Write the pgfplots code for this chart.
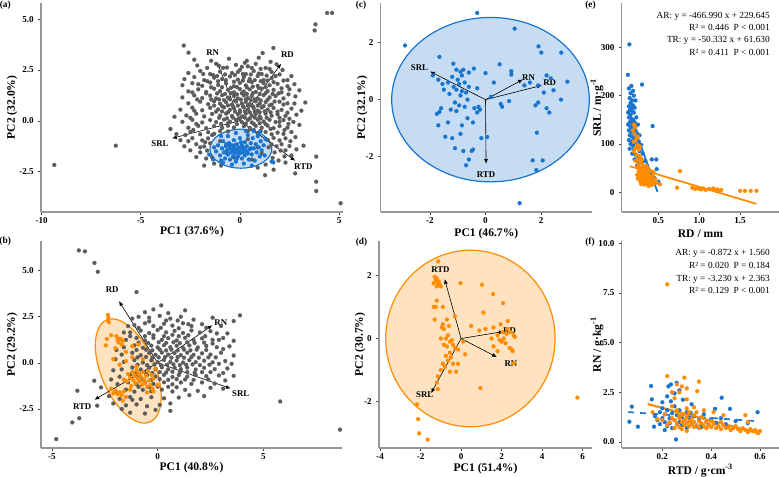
\documentclass[border=0pt]{standalone}
\usepackage{pgfplots}
\pgfplotsset{compat=1.18}
\usepackage{fontspec}
\setmainfont{Liberation Serif}
\usetikzlibrary{arrows.meta}

\definecolor{ptgrey}{RGB}{92,92,92}
\definecolor{ptblue}{RGB}{24,116,205}
\definecolor{ptorange}{RGB}{255,140,0}
\definecolor{axgrey}{RGB}{150,150,150}

\pgfplotsset{
  panel/.style={
    scale only axis, anchor=south west, clip=false,
    axis x line*=bottom, axis y line*=left,
    axis line style={-, draw=axgrey, line width=0.9pt},
    tick align=outside, major tick length=2pt,
    tick style={black!75, line width=0.45pt},
    tick label style={font=\bfseries\fontsize{6.8}{8}\selectfont, text=black},
    xticklabel style={inner sep=1.6pt},
    label style={font=\bfseries\fontsize{8.7}{10}\selectfont},
    xlabel style={anchor=center},
    ylabel style={anchor=center},
  },
  greypts/.style={only marks, mark=*, mark size=1.5pt, color=ptgrey, mark options={line width=0.1pt}},
  bluepts/.style={only marks, mark=*, mark size=1.5pt, color=ptblue, mark options={line width=0.1pt}},
  orangepts/.style={only marks, mark=*, mark size=1.5pt, color=ptorange, mark options={line width=0.1pt}},
  loading/.style={black, line width=0.45pt, -{Latex[length=3.6pt,width=3pt]}},
}
\newcommand{\vlab}{\bfseries\fontsize{6.6}{7}\selectfont}
\newcommand{\plab}{\bfseries\fontsize{7}{8}\selectfont}

\begin{document}
\begin{tikzpicture}
\useasboundingbox (0,0) rectangle (584.25pt,357pt);

% panel labels
\node[font=\plab] at (3.9pt,353.2pt) {(a)};
\node[font=\plab] at (3.9pt,176.2pt) {(b)};
\node[font=\plab] at (270.8pt,353.2pt) {(c)};
\node[font=\plab] at (271.1pt,175.5pt) {(d)};
\node[font=\plab] at (442.9pt,353.2pt) {(e)};
\node[font=\plab] at (442.5pt,175.5pt) {(f)};

%================ (a) PCA, all samples, AR highlighted
\begin{axis}[panel, at={(30.75pt,198pt)}, width=226.5pt, height=156.75pt,
  xmin=-10.03, xmax=5.2, ymin=-4.48, ymax=5.79,
  xtick={-10,-5,0,5}, xticklabels={-10,-5,0,5},
  ytick={-2.5,0,2.5,5}, yticklabels={-2.5,0.0,2.5,5.0},
  xlabel={PC1 (37.6\%)}, ylabel={PC2 (32.0\%)},
  xlabel style={at={(axis description cs:0.5,-0.093)}},
  ylabel style={at={(axis description cs:-0.096,0.5)}}]
\addplot[greypts] coordinates {
(-9.36,-2.17) (-6.26,-1.22) (4.40,5.30) (4.65,5.30) (3.81,4.74) (3.77,4.44) (5.08,-4.05) (3.85,-1.76) (3.85,-2.99) (3.85,-3.45) (3.21,-1.22) (2.79,-2.58) (1.27,-2.67) (1.69,3.58) (-2.83,3.70) (-2.59,3.35) (1.15,3.33)
(-2.3,3.0) (-1.45,2.95) (-0.55,3.05) (0.35,2.95) (0.95,3.1) (1.55,2.9)
(-2.15,2.72) (-1.65,2.6) (-1.2,2.8) (-0.65,2.62) (-0.2,2.75) (0.4,2.68) (0.8,2.8) (1.3,2.6) (1.85,2.78) (2.15,2.5)
(-2.6,2.35) (-2.0,2.45) (-1.5,2.3) (-1.0,2.42) (-0.4,2.35) (0.0,2.5) (0.3,2.3) (0.7,2.45) (1.1,2.3) (1.6,2.4) (2.0,2.28) (2.6,2.2)
(-2.8,2.05) (-2.3,2.15) (-1.8,2.0) (-1.3,2.12) (-0.9,2.05) (-0.5,2.18) (-0.1,2.02) (0.2,2.15) (0.5,2.05) (0.9,2.2) (1.2,2.0) (1.6,2.1) (2.2,1.98)
(-2.9,1.75) (-2.4,1.85) (-1.9,1.72) (-1.5,1.88) (-1.1,1.76) (-0.7,1.84) (-0.3,1.7) (0.0,1.86) (0.3,1.74) (0.6,1.9) (0.9,1.72) (1.2,1.85) (1.5,1.75) (1.9,1.82) (2.4,1.7) (2.75,1.8)
(-2.6,1.45) (-2.1,1.55) (-1.7,1.42) (-1.3,1.58) (-1.0,1.46) (-0.6,1.52) (-0.3,1.4) (0.0,1.56) (0.2,1.44) (0.5,1.55) (0.8,1.42) (1.1,1.58) (1.4,1.46) (1.7,1.52) (2.1,1.4) (2.5,1.55)
(-2.9,1.15) (-2.3,1.25) (-1.9,1.12) (-1.5,1.24) (-1.2,1.1) (-0.9,1.26) (-0.6,1.14) (-0.3,1.22) (-0.1,1.1) (0.2,1.25) (0.4,1.12) (0.6,1.22) (0.9,1.1) (1.2,1.26) (1.5,1.15) (1.8,1.22) (2.2,1.1) (2.8,1.2)
(-2.6,0.86) (-2.0,0.94) (-1.6,0.82) (-1.3,0.96) (-1.0,0.84) (-0.7,0.92) (-0.4,0.8) (-0.2,0.95) (0.1,0.85) (0.3,0.93) (0.5,0.82) (0.8,0.96) (1.0,0.84) (1.3,0.92) (1.6,0.8) (2.0,0.94) (2.4,0.86)
(-3.0,0.55) (-2.4,0.65) (-1.9,0.52) (-1.5,0.64) (-1.1,0.56) (-0.8,0.66) (-0.5,0.54) (-0.3,0.62) (0.0,0.52) (0.2,0.66) (0.4,0.56) (0.7,0.62) (0.9,0.5) (1.1,0.65) (1.4,0.55) (1.7,0.63) (2.1,0.54) (2.6,0.6) (3.1,0.5)
(-2.7,0.26) (-2.2,0.35) (-1.8,0.22) (-1.4,0.34) (-1.0,0.25) (-0.7,0.36) (-0.4,0.24) (-0.1,0.33) (0.1,0.22) (0.3,0.36) (0.6,0.26) (0.8,0.34) (1.0,0.22) (1.3,0.35) (1.6,0.25) (1.9,0.32) (2.3,0.24)
(-2.9,-0.05) (-2.4,0.05) (-1.9,-0.08) (-1.5,0.04) (-1.2,-0.06) (-0.8,0.06) (-0.5,-0.04) (-0.2,0.05) (0.1,-0.06) (0.4,0.04) (0.6,-0.08) (0.9,0.06) (1.2,-0.04) (1.5,0.05) (1.8,-0.06) (2.2,0.04) (2.7,-0.05)
(-2.6,-0.34) (-2.1,-0.25) (-1.7,-0.36) (-1.3,-0.26) (-0.9,-0.35) (-0.6,-0.24) (-0.3,-0.33) (0.2,-0.26) (0.5,-0.35) (0.8,-0.25) (1.1,-0.34) (1.4,-0.24) (1.7,-0.36) (2.0,-0.26) (2.4,-0.33)
(-3.2,-0.65) (-2.5,-0.55) (-2.0,-0.66) (-1.6,-0.56) (-1.3,-0.64) (1.3,-0.55) (1.6,-0.66) (1.9,-0.58) (2.2,-0.64) (2.6,-0.55) (-0.6,-0.52) (0.9,-0.6)
(-3.0,-0.95) (-2.4,-0.85) (-1.9,-0.96) (-1.6,-0.86) (1.4,-0.94) (1.7,-0.84) (2.0,-0.96) (2.3,-0.86)
(-2.8,-1.25) (-2.2,-1.15) (-1.8,-1.26) (1.6,-1.16) (1.85,-1.25) (2.1,-1.15) (2.5,-1.24)
(-2.5,-1.45) (-2.0,-1.55) (-1.65,-1.46) (1.75,-1.55) (2.05,-1.46)
(-2.2,-1.78) (-1.7,-1.85) (1.65,-1.82) (2.25,-1.75)
(-1.3,-2.1) (1.3,-2.15) (2.3,-2.05)
(-1.0,-1.0) (-0.5,-1.2) (0.4,-0.9) (0.9,-1.3) (-0.3,-1.8) (0.6,-1.9) (1.1,-1.6)
(-1.35,2.25) (-0.75,2.28) (-0.25,2.25) (0.15,2.3) (0.55,2.28) (0.95,2.32) (1.35,2.22)
(-1.65,1.95) (-1.1,1.95) (-0.7,2.0) (-0.3,1.92) (0.15,1.98) (0.45,1.95) (0.75,2.0) (1.05,1.95) (1.4,1.98)
(-1.45,1.65) (-0.9,1.65) (-0.45,1.62) (-0.15,1.66) (0.35,1.64) (0.65,1.68) (0.95,1.62) (1.3,1.66)
(-1.7,1.35) (-1.15,1.35) (-0.75,1.32) (-0.45,1.36) (-0.15,1.3) (0.1,1.36) (0.35,1.32) (0.65,1.36) (1.0,1.32) (1.3,1.36) (1.65,1.32)
(-1.45,1.05) (-1.05,1.05) (-0.8,1.02) (-0.5,1.06) (-0.25,1.0) (0.05,1.04) (0.3,1.05) (0.55,1.02) (0.75,1.06) (1.05,1.0) (1.4,1.04)
(-1.3,0.75) (-0.9,0.72) (-0.6,0.76) (-0.35,0.72) (-0.1,0.75) (0.15,0.72) (0.4,0.76) (0.65,0.72) (0.9,0.75) (1.2,0.72) (1.5,0.76)
(-1.2,0.45) (-0.9,0.46) (-0.6,0.42) (-0.25,0.45) (0.0,0.42) (0.25,0.46) (0.5,0.42) (0.75,0.45) (1.0,0.42) (1.25,0.46) (1.55,0.42)
(-1.05,0.15) (-0.65,0.12) (-0.35,0.16) (-0.05,0.12) (0.25,0.16) (0.5,0.12) (0.75,0.16) (1.05,0.12) (1.35,0.15)
(-0.95,-0.15) (-0.6,-0.12) (-0.15,-0.16) (0.3,-0.14) (0.7,-0.15) (1.0,-0.12) (1.3,-0.16)
(0.4,-0.5) (0.7,-0.45) (1.05,-0.5) (-1.0,-0.5)
(-0.85,2.6) (0.1,2.65) (0.6,2.6) (1.5,2.55) (-1.85,2.3) (-1.15,2.2) (1.8,2.2) (2.4,2.0) (-2.1,1.8) (1.7,1.9) (2.1,1.6) (-2.4,1.4) (1.95,1.35) (2.45,1.3) (-2.15,1.05) (1.75,0.95) (2.2,0.8) (2.75,0.85) (-2.3,0.5) (1.9,0.45) (2.4,0.4) (2.85,0.3) (-2.5,0.15) (2.0,0.15) (2.5,0.1) (-2.2,-0.15) (2.0,-0.05) (2.45,-0.15) (3.0,-0.2) (-2.35,-0.45) (1.55,-0.4) (2.25,-0.45) (2.8,-0.8) (-2.75,-0.7) (2.55,-1.0) (2.85,-1.4) (-2.6,-1.0) (-1.4,-0.7) (-1.75,-1.05) (-2.0,-1.3) (-1.5,-1.1) (1.45,-1.3) (2.3,-1.45) (-1.4,-1.8) (1.95,-1.95) (2.6,-1.7) (-0.95,-2.2) (0.9,-2.3) (1.7,-2.4) (-1.8,-2.2) (3.3,0.9) (3.0,1.5) (-3.3,0.2) (-3.5,-0.4) (-1.05,2.7) (0.25,2.85) (1.05,2.55) (-0.1,2.4)
};
\draw[ptblue, line width=0.9pt, fill=ptblue, fill opacity=0.25] (axis cs:0.05,-1.37) ellipse [x radius=23.25pt, y radius=14.6pt];
\addplot[bluepts] coordinates {
(-1.55,-1.66) (1.69,-2.04) (1.6,-2.0) (-1.2,-1.5) (-1.1,-1.2) (-1.0,-1.7) (-0.9,-1.35) (-0.85,-1.0) (-0.8,-1.55) (-0.75,-1.85) (-0.7,-1.25) (-0.65,-1.45) (-0.6,-1.65) (-0.55,-1.1) (-0.5,-1.35) (-0.5,-1.9) (-0.45,-1.55) (-0.4,-1.2) (-0.35,-1.45) (-0.35,-1.75) (-0.3,-0.95) (-0.3,-1.3) (-0.25,-1.6) (-0.2,-1.4) (-0.2,-2.0) (-0.15,-1.15) (-0.1,-1.5) (-0.1,-1.75) (-0.05,-1.3) (0.0,-1.6) (0.0,-0.85) (0.05,-1.45) (0.1,-1.2) (0.1,-1.85) (0.15,-1.55) (0.2,-1.35) (0.25,-1.05) (0.25,-1.7) (0.3,-1.45) (0.35,-1.25) (0.4,-1.6) (0.4,-0.7) (0.45,-1.9) (0.5,-1.4) (0.55,-1.1) (0.6,-1.65) (0.65,-0.85) (0.7,-1.35) (0.75,-1.95) (0.8,-1.15) (0.85,-1.55) (0.9,-0.75) (0.95,-1.3) (1.0,-1.75) (1.05,-1.0) (1.1,-1.45) (1.2,-1.2) (1.25,-1.7) (1.3,-0.9) (-1.3,-1.3) (-0.95,-0.75) (-0.6,-0.75) (-0.2,-0.6) (0.3,-0.5) (0.7,-0.5) (1.0,-0.55) (-0.85,-2.05) (-0.4,-2.15) (0.2,-2.1) (0.6,-2.2) (-1.35,-1.9) (-0.7,-1.15) (-0.45,-1.3) (-0.25,-1.2) (-0.05,-1.55) (0.15,-1.3) (0.35,-1.55) (0.55,-1.35) (-0.65,-1.6) (-0.15,-1.85) (0.05,-1.05) (-0.95,-1.95)
};
\addplot[loading] coordinates {(0,0) (-1.15,2.89)};
\addplot[loading] coordinates {(0,0) (2.08,2.81)};
\addplot[loading] coordinates {(0,0) (-3.42,-0.86)};
\addplot[loading] coordinates {(0,0) (2.79,-1.96)};
\node[font=\vlab] at (axis cs:-1.37,3.33) {RN};
\node[font=\vlab] at (axis cs:2.4,3.25) {RD};
\node[font=\vlab] at (axis cs:-4.03,-1.14) {SRL};
\node[font=\vlab] at (axis cs:3.2,-2.27) {RTD};
\end{axis}

%================ (b) PCA, all samples, TR highlighted
\begin{axis}[panel, at={(30.75pt,21pt)}, width=225.75pt, height=155.25pt,
  xmin=-5.52, xmax=8.725, ymin=-4.615, ymax=6.61,
  xtick={-5,0,5}, xticklabels={-5,0,5},
  ytick={-2.5,0,2.5,5}, yticklabels={-2.5,0.0,2.5,5.0},
  xlabel={PC1 (40.8\%)}, ylabel={PC2 (29.2\%)},
  xlabel style={at={(axis description cs:0.5,-0.095)}},
  ylabel style={at={(axis description cs:-0.096,0.5)}}]
\addplot[greypts] coordinates {
(-3.73,6.1) (-3.44,6.05) (-2.99,5.42) (-2.83,4.94) (-1.0,3.84) (0.17,3.12) (3.9,2.58) (3.6,2.27) (5.8,-2.09) (8.63,-3.62) (-4.8,-4.13) (-4.04,-3.23) (-3.71,-3.0) (-3.8,-1.51) (-3.0,-0.97) (-2.68,-1.33) (-2.86,-2.32)
(-0.6,2.75) (-0.2,2.9) (0.5,2.7) (1.3,2.85)
(-0.9,2.5) (-0.4,2.45) (0.1,2.55) (0.6,2.4) (1.1,2.5) (1.7,2.35) (2.6,2.45)
(-1.1,2.05) (-0.6,2.15) (-0.2,2.0) (0.3,2.12) (0.7,2.02) (1.2,2.15) (1.6,2.0) (2.1,2.1) (3.0,2.0)
(-1.3,1.65) (-0.8,1.75) (-0.4,1.62) (0.0,1.78) (0.4,1.66) (0.8,1.74) (1.2,1.62) (1.6,1.76) (2.0,1.65) (2.5,1.72) (3.3,1.6)
(-1.5,1.25) (-1.0,1.35) (-0.6,1.22) (-0.2,1.36) (0.2,1.25) (0.5,1.34) (0.9,1.22) (1.3,1.36) (1.7,1.24) (2.1,1.33) (2.6,1.25) (3.1,1.35)
(-1.6,0.85) (-1.1,0.95) (-0.7,0.82) (-0.3,0.94) (0.0,0.84) (0.3,0.96) (0.6,0.85) (0.9,0.93) (1.2,0.82) (1.5,0.95) (1.9,0.84) (2.3,0.92) (2.8,0.85) (3.4,0.9)
(-1.7,0.45) (-1.2,0.55) (-0.8,0.42) (-0.4,0.54) (-0.1,0.44) (0.2,0.56) (0.5,0.45) (0.8,0.53) (1.1,0.42) (1.4,0.55) (1.7,0.44) (2.1,0.52) (2.5,0.45) (3.0,0.55)
(-1.6,0.05) (-1.1,0.15) (-0.7,0.02) (-0.3,0.14) (0.0,0.04) (0.3,0.16) (0.6,0.05) (0.9,0.13) (1.2,0.02) (1.5,0.15) (1.8,0.04) (2.2,0.12) (2.6,0.03) (3.2,0.1)
(-1.7,-0.35) (-1.2,-0.25) (-0.8,-0.36) (-0.4,-0.26) (-0.1,-0.34) (0.2,-0.24) (0.5,-0.35) (0.8,-0.26) (1.1,-0.34) (1.4,-0.25) (1.8,-0.36) (2.2,-0.27) (2.7,-0.34) (3.3,-0.3)
(-1.8,-0.75) (-1.3,-0.65) (-0.9,-0.76) (-0.5,-0.66) (-0.1,-0.74) (0.3,-0.65) (0.7,-0.76) (1.0,-0.66) (1.4,-0.74) (1.8,-0.65) (2.3,-0.72) (2.9,-0.68)
(-1.9,-1.15) (-1.4,-1.05) (-1.0,-1.16) (-0.6,-1.06) (-0.2,-1.14) (0.3,-1.05) (0.7,-1.16) (1.1,-1.06) (1.6,-1.14) (2.1,-1.06) (2.7,-1.12)
(-2.0,-1.55) (-1.5,-1.45) (-1.1,-1.56) (-0.7,-1.46) (-0.3,-1.54) (0.2,-1.45) (0.7,-1.55) (1.3,-1.46) (1.9,-1.52)
(-1.8,-1.95) (-1.3,-1.85) (-0.8,-1.96) (-0.3,-1.86) (0.3,-1.92) (1.0,-1.88)
(-1.5,-2.3) (-1.0,-2.25) (-0.5,-2.35) (0.1,-2.28)
(-1.3,-2.7) (-0.6,-2.75)
(-0.6,1.45) (-0.2,1.5) (0.3,1.45) (0.7,1.52) (1.0,1.45) (1.45,1.5)
(-0.9,1.1) (-0.45,1.08) (0.05,1.12) (0.4,1.08) (0.75,1.12) (1.05,1.07) (1.4,1.12) (1.75,1.08) (2.2,1.1)
(-1.0,0.7) (-0.55,0.72) (-0.25,0.68) (0.1,0.72) (0.4,0.68) (0.65,0.72) (0.95,0.68) (1.25,0.72) (1.55,0.68) (1.85,0.72) (2.3,0.7)
(-0.95,0.3) (-0.55,0.32) (-0.25,0.28) (0.05,0.3) (0.35,0.32) (0.65,0.28) (0.95,0.32) (1.25,0.28) (1.6,0.32) (1.95,0.28) (2.4,0.3)
(-0.95,-0.1) (-0.5,-0.12) (-0.15,-0.08) (0.15,-0.12) (0.45,-0.1) (0.75,-0.08) (1.05,-0.12) (1.35,-0.1) (1.65,-0.08) (2.0,-0.12) (2.45,-0.1)
(-1.0,-0.52) (-0.6,-0.5) (-0.25,-0.55) (0.1,-0.5) (0.4,-0.52) (0.7,-0.48) (1.05,-0.52) (1.4,-0.5) (1.75,-0.53) (2.1,-0.5)
(-0.7,-0.9) (-0.3,-0.92) (0.1,-0.88) (0.5,-0.92) (0.9,-0.88) (1.3,-0.9) (1.7,-0.92)
(-0.9,-1.3) (-0.4,-1.32) (0.0,-1.28) (0.5,-1.3) (0.9,-1.32)
(-0.4,2.25) (0.4,2.3) (0.95,2.3) (1.45,2.1) (2.3,1.9) (2.8,1.6) (-0.9,1.9) (0.15,1.9) (1.0,1.88) (2.25,1.45) (2.9,1.25) (3.6,1.2) (-1.3,1.45) (2.6,1.05) (3.1,0.75) (3.6,0.4) (2.75,0.3) (3.5,-0.05) (2.9,-0.05) (2.5,-0.5) (3.1,-0.55) (3.6,-0.7) (2.4,-0.9) (3.2,-0.95) (2.5,-1.35) (3.1,-1.4) (1.5,-1.75) (2.2,-1.8) (0.6,-2.2) (-0.1,-2.55) (0.6,-2.6) (-1.2,-2.0) (-1.7,-2.5) (-2.1,-2.2) (-2.3,-1.8) (-2.2,-0.9) (-2.1,-0.4) (-2.0,0.2) (-1.95,0.7) (-1.8,1.3) (-1.6,1.65) (-1.2,2.4) (-1.4,2.0)
};
\draw[ptorange, line width=0.9pt, fill=ptorange, fill opacity=0.25, rotate around={23:(axis cs:-1.39,-0.44)}] (axis cs:-1.39,-0.44) ellipse [x radius=20.25pt, y radius=41.55pt];
\addplot[orangepts] coordinates {
(-2.35,2.6) (-2.33,2.45) (-2.36,2.3) (-2.3,2.2)
(-2.4,1.3) (-2.45,0.95) (-2.2,1.5) (-1.95,1.45) (-1.9,1.25) (-1.85,1.1) (-1.75,1.3) (-1.7,1.0) (-1.65,1.2) (-2.0,0.8) (-1.5,0.6) (-1.2,0.9) (-0.9,1.0)
(-2.1,0.2) (-1.8,-0.1) (-1.5,0.1) (-1.2,0.3) (-1.0,-0.2) (-0.7,0.2)
(-1.4,-0.6) (-1.3,-0.8) (-1.2,-0.5) (-1.15,-0.95) (-1.1,-0.7) (-1.05,-1.1) (-1.0,-0.4) (-0.95,-0.85) (-0.9,-0.6) (-0.85,-1.0) (-0.8,-0.75) (-0.75,-1.2) (-0.7,-0.5) (-0.65,-0.9) (-0.6,-1.1) (-0.55,-0.7) (-0.5,-1.3) (-0.45,-0.45) (-0.4,-0.95) (-0.35,-1.2) (-0.3,-0.65) (-0.25,-1.4) (-0.2,-0.85) (-1.25,-1.25) (-1.45,-1.0) (-1.6,-0.9) (-1.3,-1.45)
(-2.0,-1.5) (-1.9,-1.7) (-1.8,-1.6) (-1.7,-1.75) (-1.6,-1.55) (-2.1,-1.65) (-1.5,-1.85) (-1.65,-2.05) (-2.2,-1.4)
(-0.5,-1.6) (-0.2,-1.55) (0.0,-1.2) (-0.1,-0.3)
};
\addplot[loading] coordinates {(0,0) (-1.83,3.35)};
\addplot[loading] coordinates {(0,0) (2.59,2.04)};
\addplot[loading] coordinates {(0,0) (3.46,-1.39)};
\addplot[loading] coordinates {(0,0) (-2.99,-2.0)};
\node[font=\vlab] at (axis cs:-2.15,3.95) {RD};
\node[font=\vlab] at (axis cs:2.99,2.2) {RN};
\node[font=\vlab] at (axis cs:3.93,-1.69) {SRL};
\node[font=\vlab] at (axis cs:-3.57,-2.38) {RTD};
\end{axis}

%================ (c) PCA, AR
\begin{axis}[panel, at={(285.5pt,198pt)}, width=158.5pt, height=156.75pt,
  xmin=-3.777, xmax=3.837, ymin=-3.94, ymax=3.39,
  xtick={-2,0,2}, xticklabels={-2,0,2},
  ytick={-2,0,2}, yticklabels={-2,0,2},
  xlabel={PC1 (46.7\%)}, ylabel={PC2 (32.1\%)},
  xlabel style={at={(axis description cs:0.5,-0.105)}},
  ylabel style={at={(axis description cs:-0.087,0.5)}}]
\draw[ptblue, line width=0.9pt, fill=ptblue, fill opacity=0.25] (axis cs:0.18,0.0) ellipse [x radius=74.1pt, y radius=61.65pt];
\addplot[bluepts] coordinates {
(-0.3,3.04) (1.05,2.49) (-2.9,1.9) (1.91,1.87) (2.01,1.65) (2.73,1.65) (-1.66,1.5) (-1.16,1.26) (-0.42,1.09) (0.51,1.24) (0.93,1.0) (0.93,0.88) (0.0,0.93)
(-1.05,1.05) (-0.9,0.98) (-0.8,1.05) (-0.6,0.95) (-0.85,0.85) (-1.2,0.8) (-1.7,0.7) (-1.9,0.85) (-1.55,0.55) (-1.35,0.6) (-1.0,0.7) (-0.95,0.55) (-0.75,0.6) (-1.15,0.45) (-1.05,0.35) (-0.85,0.3) (-0.7,0.25) (-1.3,0.2) (-1.5,0.35) (-0.9,0.15) (-0.6,0.45) (-0.3,0.4) (-1.1,-0.1) (-0.95,-0.2) (-0.75,-0.25) (-0.65,0.0) (-0.4,-0.3) (-0.25,-0.25) (-0.2,-0.35) (-0.3,-0.45) (-1.05,-0.4) (-1.25,-0.35) (-1.6,-0.3) (-1.66,-0.43) (-1.75,-0.5) (-1.7,-0.9) (-0.85,-0.9) (-0.65,-0.65) (-0.45,-0.8) (-1.45,-1.3) (-1.2,-1.35) (-1.1,-1.7) (-0.8,-1.8) (-0.5,-1.8) (-0.45,-1.75) (-0.6,-2.1) (-0.7,-2.3) (-0.15,-1.35) (-0.9,-1.2) (-1.35,-0.8)
(2.2,0.85) (1.9,0.5) (2.1,0.25) (2.45,0.33) (2.95,0.63) (2.72,0.0) (2.2,-0.3) (2.3,-0.45) (1.9,-0.1) (1.8,-0.2) (1.4,0.5) (0.85,-0.05) (0.55,-0.15) (0.6,-0.25) (0.3,0.6) (0.2,0.1) (1.85,-1.16) (1.7,-2.13) (2.06,-2.13) (1.83,-2.47) (1.23,-3.63) (0.06,-1.31) (2.35,0.75) (1.6,0.6)
};
\addplot[loading] coordinates {(0,0) (-2.0,0.99)};
\addplot[loading] coordinates {(0,0) (1.35,0.71)};
\addplot[loading] coordinates {(0,0) (2.03,0.5)};
\addplot[loading] coordinates {(0,0) (0.02,-2.25)};
\node[font=\vlab] at (axis cs:-2.38,1.11) {SRL};
\node[font=\vlab] at (axis cs:1.55,0.77) {RN};
\node[font=\vlab] at (axis cs:2.31,0.6) {RD};
\node[font=\vlab] at (axis cs:0.02,-2.62) {RTD};
\end{axis}

%================ (d) PCA, TR
\begin{axis}[panel, at={(284.25pt,21pt)}, width=159.75pt, height=155.25pt,
  xmin=-4.05, xmax=6.46, ymin=-3.465, ymax=3.085,
  xtick={-4,-2,0,2,4,6}, xticklabels={-4,-2,0,2,4,6},
  ytick={-2,0,2}, yticklabels={-2,0,2},
  xlabel={PC1 (51.4\%)}, ylabel={PC2 (30.7\%)},
  xlabel style={at={(axis description cs:0.5,-0.1)}},
  ylabel style={at={(axis description cs:-0.089,0.5)}}]
\draw[ptorange, line width=0.9pt, fill=ptorange, fill opacity=0.25] (axis cs:0.46,0.0) ellipse [x radius=63.5pt, y radius=66.2pt];
\addplot[orangepts] coordinates {
(-1.13,2.44) (-1.3,1.95) (-1.25,1.85) (-1.2,1.9) (-1.15,1.75) (-1.1,1.8) (-1.05,1.7) (-1.35,1.75) (-1.0,1.65) (-1.2,1.65)
(-0.03,1.75) (1.03,1.7) (1.58,1.41) (2.07,1.12) (1.1,0.82)
(-1.2,1.2) (-1.25,1.0) (-1.35,1.0) (-0.9,1.0) (-0.3,0.7) (-0.7,0.6) (-1.3,0.6) (-0.9,0.45) (-0.95,0.35) (-0.85,0.3) (-0.6,0.4) (-0.65,0.1) (-1.0,0.0) (-0.75,0.0) (-0.55,-0.1) (-0.45,-0.05) (-0.4,-0.2) (-0.7,-0.25) (-0.85,-0.2) (-0.3,-0.3) (-0.55,-0.45) (-0.75,-0.55) (-0.65,-0.7) (-0.5,-0.6) (-0.9,-0.8) (-0.8,-0.9) (-1.0,-1.0) (-0.4,-0.8) (-0.15,-0.8) (-0.55,-1.05) (-0.25,-1.05) (-1.15,-1.2) (-1.2,-1.4) (-1.15,-1.6) (-0.15,-0.35) (0.1,-0.1) (0.2,-0.5) (0.5,0.4) (0.95,-1.57)
(1.6,0.35) (1.95,0.45) (2.3,0.55) (2.05,0.2) (2.25,0.15) (2.45,0.2) (2.6,0.1) (2.65,0.05) (1.8,0.1) (1.9,-0.05) (2.0,-0.1) (2.1,0.0) (2.2,-0.15) (2.4,-0.3) (2.5,-0.35) (2.55,-0.4) (1.8,-0.4) (1.6,-0.25) (1.5,0.0) (2.6,-0.78) (1.2,0.3) (0.9,0.25) (2.3,0.3)
(-2.17,-2.08) (-2.12,-2.55) (-2.07,-3.0) (-1.65,-3.2) (5.74,-1.87)
};
\addplot[loading] coordinates {(0,0) (-0.81,1.88)};
\addplot[loading] coordinates {(0,0) (2.1,0.22)};
\addplot[loading] coordinates {(0,0) (1.77,-0.59)};
\addplot[loading] coordinates {(0,0) (-1.48,-1.73)};
\node[font=\vlab] at (axis cs:-1.02,2.17) {RTD};
\node[font=\vlab] at (axis cs:2.39,0.25) {RD};
\node[font=\vlab] at (axis cs:2.46,-0.78) {RN};
\node[font=\vlab] at (axis cs:-1.79,-1.78) {SRL};
\end{axis}

%================ (e) SRL vs RD
\begin{axis}[panel, at={(466.3pt,198pt)}, width=118pt, height=156.75pt,
  xmin=0.052, xmax=1.977, ymin=-40.8, ymax=391.7,
  xtick={0.5,1.0,1.5}, xticklabels={0.5,1.0,1.5},
  ytick={0,100,200,300}, yticklabels={0,100,200,300},
  xlabel={RD / mm}, ylabel={SRL / m·g\textsuperscript{-1}},
  xlabel style={at={(axis description cs:0.5,-0.105)}},
  ylabel style={at={(axis description cs:-0.157,0.5)}}]
\addplot[bluepts] coordinates {
(0.146,306) (0.127,243) (0.30,223) (0.43,137) (0.48,48) (0.475,68) (0.42,68) (0.5,22)
(0.14,215) (0.16,205) (0.17,220) (0.15,195) (0.18,190) (0.16,185) (0.14,178) (0.17,175) (0.19,180) (0.15,170) (0.18,168) (0.13,165) (0.16,160) (0.2,165) (0.14,155) (0.17,152) (0.19,150) (0.15,145) (0.18,142) (0.21,145) (0.13,140) (0.16,135) (0.2,138) (0.14,128) (0.17,125) (0.19,130) (0.22,128) (0.15,118) (0.18,115) (0.21,120) (0.24,122) (0.14,108) (0.17,105) (0.2,110) (0.23,112) (0.16,100) (0.19,96) (0.22,100) (0.26,105) (0.15,90) (0.2,88) (0.24,92) (0.27,85) (0.18,80) (0.22,78) (0.25,75) (0.28,70) (0.21,68) (0.26,60) (0.3,62) (0.24,55) (0.32,50) (0.28,45) (0.35,40) (0.3,35) (0.38,30) (0.33,25) (0.4,20) (0.36,55) (0.2,200) (0.19,210) (0.21,175) (0.23,155) (0.22,190) (0.25,140) (0.27,118) (0.29,98) (0.31,80) (0.34,65) (0.45,30)
};
\addplot[orangepts] coordinates {
(0.2,140) (0.22,135) (0.19,128) (0.21,120) (0.23,110) (0.2,105) (0.24,98) (0.22,92) (0.26,88) (0.2,85) (0.23,78) (0.27,75) (0.25,68) (0.22,65) (0.29,62) (0.26,58) (0.31,55) (0.24,52) (0.28,50) (0.33,48) (0.3,45) (0.26,44) (0.35,42) (0.32,40) (0.28,38) (0.37,38) (0.24,36) (0.34,35) (0.3,33) (0.39,33) (0.27,30) (0.36,30) (0.32,28) (0.41,28) (0.29,26) (0.38,25) (0.34,23) (0.43,24) (0.31,21) (0.4,20) (0.36,18) (0.45,19) (0.33,16) (0.42,15) (0.38,13) (0.28,22) (0.25,28) (0.35,55) (0.4,45) (0.43,35) (0.3,68) (0.27,95) (0.25,115) (0.46,28) (0.48,20) (0.44,42) (0.37,50) (0.31,36) (0.29,17) (0.33,31)
(0.52,16.5) (0.73,9.5) (0.765,44) (0.915,9.5) (0.95,7) (0.99,8) (1.02,6) (1.05,8) (1.08,5) (1.12,7) (1.17,8) (1.2,4) (1.22,6) (1.25,3) (1.27,5) (1.5,3) (1.56,3) (1.63,3) (1.7,3)
};
% fitted lines: AR y = -466.990x + 229.645 ; TR y = -50.332x + 61.630
\addplot[ptorange, line width=1.3pt] coordinates {(0.15,54.08) (1.70,-23.93)};
\addplot[ptblue, line width=1.3pt] coordinates {(0.16,154.93) (0.49,0.82)};
\node[anchor=north east, align=right, font=\fontsize{7}{9.2}\selectfont, inner sep=0pt] at (rel axis cs:0.943,0.957)
  {AR: y = -466.990 x + 229.645\\R² = 0.446\enspace P < 0.001\\TR: y = -50.332 x + 61.630\\R² = 0.411\enspace P < 0.001};
\end{axis}

%================ (f) RN vs RTD
\begin{axis}[panel, at={(466.3pt,21pt)}, width=118pt, height=155.25pt,
  xmin=0.0338, xmax=0.678, ymin=-0.302, ymax=10.12,
  xtick={0.2,0.4,0.6}, xticklabels={0.2,0.4,0.6},
  ytick={0,2.5,5,7.5,10}, yticklabels={0.0,2.5,5.0,7.5,10.0},
  xlabel={RTD / g·cm\textsuperscript{-3}}, ylabel={RN / g·kg\textsuperscript{-1}},
  xlabel style={at={(axis description cs:0.5,-0.108)}},
  ylabel style={at={(axis description cs:-0.157,0.5)}}]
\addplot[bluepts] coordinates {
(0.065,1.02) (0.075,1.78) (0.10,0.77) (0.154,2.82) (0.157,2.15) (0.166,0.77) (0.225,2.8) (0.235,2.9) (0.259,2.98) (0.256,0.13) (0.284,2.13) (0.316,1.47) (0.443,2.23) (0.477,1.67) (0.416,1.67) (0.59,1.5)
(0.17,1.3) (0.18,1.1) (0.19,1.5) (0.19,0.9) (0.2,1.7) (0.2,1.2) (0.21,1.0) (0.21,1.4) (0.22,0.8) (0.22,1.6) (0.23,1.2) (0.23,0.95) (0.24,1.45) (0.24,0.7) (0.25,1.1) (0.25,1.8) (0.26,0.9) (0.26,1.35) (0.27,1.0) (0.27,1.6) (0.28,0.85) (0.28,1.25) (0.29,1.1) (0.3,1.5) (0.3,0.7) (0.31,1.2) (0.32,0.95) (0.33,1.3) (0.34,0.8) (0.35,1.1) (0.36,0.9) (0.37,1.4) (0.38,1.0) (0.39,0.85) (0.4,1.15) (0.42,0.95) (0.44,1.2) (0.46,0.9) (0.5,1.05) (0.55,0.95) (0.2,2.0) (0.22,2.3) (0.24,2.5) (0.25,2.45) (0.32,1.9) (0.36,0.75) (0.27,2.6) (0.235,2.05) (0.21,0.6)
};
\addplot[orangepts] coordinates {
(0.22,7.94) (0.22,3.32) (0.29,3.24) (0.35,3.04) (0.343,2.56) (0.24,2.5) (0.26,2.9) (0.27,2.5) (0.28,2.8) (0.25,2.2) (0.3,2.7) (0.24,1.8) (0.26,1.5) (0.33,1.75) (0.34,1.5) (0.37,1.6) (0.41,1.5) (0.45,1.35) (0.54,1.35) (0.55,1.0) (0.3,2.15)
(0.25,1.1) (0.26,0.9) (0.27,1.2) (0.27,0.75) (0.28,1.0) (0.28,1.35) (0.29,0.85) (0.29,1.1) (0.3,0.95) (0.3,1.25) (0.31,0.8) (0.31,1.05) (0.32,0.9) (0.32,1.15) (0.33,0.75) (0.33,1.0) (0.34,0.85) (0.35,1.05) (0.35,0.7) (0.36,0.95) (0.37,0.8) (0.38,1.0) (0.38,0.7) (0.39,0.85) (0.4,0.75) (0.41,0.9) (0.42,0.7) (0.43,0.8) (0.44,0.65) (0.45,0.85) (0.46,0.7) (0.47,0.75) (0.48,0.6) (0.49,0.7) (0.5,0.8) (0.51,0.65) (0.52,0.55) (0.53,0.7) (0.54,0.6) (0.55,0.5) (0.56,0.65) (0.57,0.55) (0.58,0.6) (0.59,0.5) (0.6,0.55) (0.59,0.45) (0.3,0.55) (0.29,1.4) (0.31,1.5) (0.27,1.3) (0.24,1.2) (0.23,1.0) (0.21,1.4) (0.2,1.1) (0.18,1.15) (0.16,1.5) (0.22,0.85) (0.25,0.7) (0.28,0.65) (0.33,1.35) (0.26,1.6) (0.36,1.25) (0.4,1.05) (0.44,1.0) (0.3,1.7)
};
% fitted lines: AR y = -0.872x + 1.560 ; TR y = -3.230x + 2.363
\addplot[ptblue, line width=1.2pt, dash pattern=on 4.5pt off 4.5pt] coordinates {(0.06,1.508) (0.58,1.054)};
\addplot[ptorange, line width=1.6pt] coordinates {(0.14,1.911) (0.60,0.425)};
\node[anchor=north east, align=right, font=\fontsize{7}{9.5}\selectfont, inner sep=0pt] at (rel axis cs:0.943,0.959)
  {AR: y = -0.872 x + 1.560\\R² = 0.020\enspace P = 0.184\\TR: y = -3.230 x + 2.363\\R² = 0.129\enspace P < 0.001};
\end{axis}
\end{tikzpicture}
\end{document}
